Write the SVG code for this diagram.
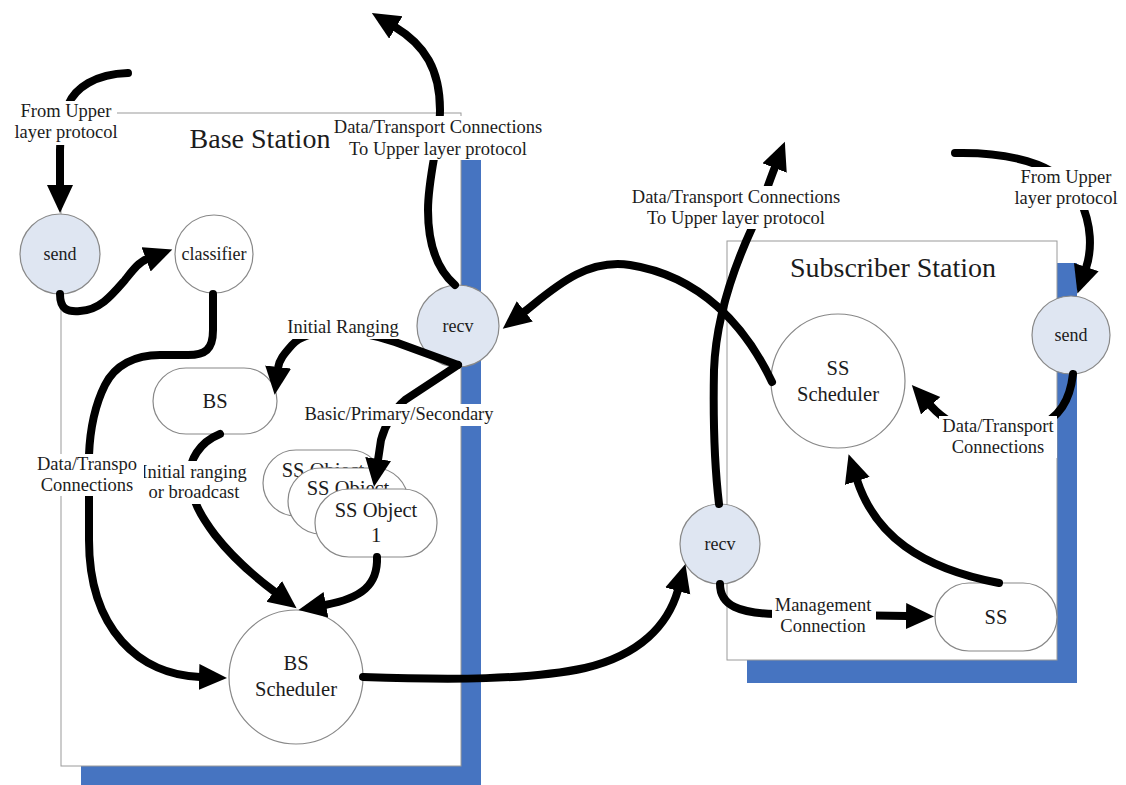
<svg xmlns="http://www.w3.org/2000/svg" width="1126" height="785" viewBox="0 0 1126 785">
  <style>
    text { font-family: "Liberation Serif", "Times New Roman", serif; fill: #1c1c1c; text-anchor: middle; }
    .title { font-size: 28px; }
    .lbl { font-size: 18.5px; }
    .small { font-size: 18px; }
    .big { font-size: 20.5px; }
    .shadow { fill: #4674c1; }
    .box { fill: #ffffff; stroke: #9a9a9a; stroke-width: 1; }
    .port { fill: #dfe6f2; stroke: #888888; stroke-width: 1.2; }
    .proc { fill: #ffffff; stroke: #888888; stroke-width: 1.2; }
    .edge { fill: none; stroke: #000000; stroke-width: 8; stroke-linecap: round; }
    .bg { fill: #ffffff; }
  </style>
  <defs>
    <marker id="head" markerUnits="userSpaceOnUse" markerWidth="30" markerHeight="28" refX="1" refY="13" orient="auto">
      <path d="M0,0 L28,13 L0,26 z" fill="#000000"/>
    </marker>
  </defs>

  <rect width="1126" height="785" fill="#ffffff"/>

  <!-- Station frames with their blue drop shadows -->
  <g id="base-station">
    <rect class="shadow" x="81" y="135" width="400" height="655"/>
    <rect class="box" x="61" y="113" width="400" height="653"/>
    <text class="title" x="260" y="148">Base Station</text>
  </g>
  <g id="subscriber-station">
    <rect class="shadow" x="747" y="263" width="330" height="420"/>
    <rect class="box" x="727" y="241" width="330" height="419"/>
    <text class="title" x="893" y="277">Subscriber Station</text>
  </g>

  <!-- Nodes -->
  <g id="bs-send">
    <circle class="port" cx="60" cy="254" r="40"/>
    <text class="small" x="60" y="260">send</text>
  </g>
  <g id="bs-classifier">
    <circle class="proc" cx="214" cy="254" r="39"/>
    <text class="small" x="214" y="260">classifier</text>
  </g>
  <g id="bs-recv">
    <circle class="port" cx="458" cy="326" r="41"/>
    <text class="small" x="458" y="332">recv</text>
  </g>
  <g id="bs-object">
    <rect class="proc" x="153" y="368" width="124" height="66" rx="33"/>
    <text class="big" x="215" y="408">BS</text>
  </g>
  <g id="ss-object-3">
    <rect class="proc" x="263" y="450" width="120" height="66" rx="33"/>
    <text class="big" x="323" y="477">SS Object</text>
  </g>
  <g id="ss-object-2">
    <rect class="proc" x="288" y="468" width="120" height="66" rx="33"/>
    <text class="big" x="348" y="495">SS Object</text>
  </g>
  <g id="ss-object-1">
    <rect class="proc" x="315" y="489" width="122" height="68" rx="34"/>
    <text class="big" x="376" y="517">SS Object</text>
    <text class="big" x="376" y="542">1</text>
  </g>
  <g id="bs-scheduler">
    <circle class="proc" cx="296" cy="677" r="67"/>
    <text class="big" x="296" y="670">BS</text>
    <text class="big" x="296" y="696">Scheduler</text>
  </g>
  <g id="ss-recv">
    <circle class="port" cx="720" cy="544" r="40"/>
    <text class="small" x="720" y="550">recv</text>
  </g>
  <g id="ss-send">
    <circle class="port" cx="1071" cy="335" r="39"/>
    <text class="small" x="1071" y="341">send</text>
  </g>
  <g id="ss-scheduler">
    <circle class="proc" cx="838" cy="381" r="67"/>
    <text class="big" x="838" y="375">SS</text>
    <text class="big" x="838" y="401">Scheduler</text>
  </g>
  <g id="ss-object">
    <rect class="proc" x="935" y="583" width="122" height="68" rx="34"/>
    <text class="big" x="996" y="624">SS</text>
  </g>

  <!-- Connectors -->
  <g id="connectors">
    <path class="edge" marker-end="url(#head)" d="M128,73 C95,74 75,88 68,105 C62,120 60,135 60,150 L60,186"/>
    <path class="edge" marker-end="url(#head)" d="M60,294 C60,310 68,312 80,311 C100,310 112,295 125,280 C133,270 139,262 147,259"/>
    <path class="edge" marker-end="url(#head)" d="M213,294 L213,330 C213,350 205,355 188,355 L160,355 C135,355 115,365 105,385 C95,405 90,430 89,455 L89,540 C89,630 140,675 200,677"/>
    <path class="edge" marker-end="url(#head)" d="M455,285 C440,272 428,250 428,210 C428,175 440,140 440,110 C440,70 425,45 395,27"/>
    <path class="edge" marker-end="url(#head)" d="M458,365 L395,342 C350,326 305,330 292,345 C284,354 279,360 278,368"/>
    <path class="edge" marker-end="url(#head)" d="M458,365 L405,400 C395,408 385,425 381,440 L378,460"/>
    <path class="edge" marker-end="url(#head)" d="M220,434 C200,442 188,460 190,480 C192,500 200,515 215,535 C232,557 255,577 275,592"/>
    <path class="edge" marker-end="url(#head)" d="M377,557 C378,585 362,598 325,605"/>
    <path class="edge" marker-end="url(#head)" d="M363,677 C450,680 530,680 585,668 C640,655 668,625 678,590"/>
    <path class="edge" marker-end="url(#head)" d="M719,504 C715,470 713,420 714,370 C716,315 735,265 752,228 C760,210 766,190 775,167"/>
    <path class="edge" marker-end="url(#head)" d="M772,382 C745,325 700,276 630,265 C585,258 552,290 524,312"/>
    <path class="edge" marker-end="url(#head)" d="M955,153 C1000,152 1060,160 1080,200 C1092,225 1092,250 1086,268"/>
    <path class="edge" marker-end="url(#head)" d="M1073,374 C1070,400 1060,418 1035,428 C1000,440 960,438 930,405"/>
    <path class="edge" marker-end="url(#head)" d="M999,583 C920,568 875,535 857,480"/>
    <path class="edge" marker-end="url(#head)" d="M720,584 C720,606 740,613 775,614 L907,616"/>
  </g>

  <!-- Connector labels -->
  <g id="edge-labels">
    <rect class="bg" x="14" y="101" width="103" height="44"/>
    <text class="lbl" x="66" y="117">From Upper</text>
    <text class="lbl" x="66" y="138">layer protocol</text>

    <rect class="bg" x="330" y="116" width="217" height="44"/>
    <text class="lbl" x="438" y="133">Data/Transport Connections</text>
    <text class="lbl" x="438" y="155">To Upper layer protocol</text>

    <rect class="bg" x="285" y="317" width="116" height="22"/>
    <text class="lbl" x="343" y="333">Initial Ranging</text>

    <rect class="bg" x="302" y="404" width="194" height="22"/>
    <text class="lbl" x="399" y="420">Basic/Primary/Secondary</text>

    <rect class="bg" x="138" y="461" width="112" height="43"/>
    <text class="lbl" x="194" y="478">Initial ranging</text>
    <text class="lbl" x="194" y="498">or broadcast</text>

    <rect class="bg" x="30" y="454" width="114" height="42"/>
    <text class="lbl" x="87" y="470">Data/Transpo</text>
    <text class="lbl" x="87" y="491">Connections</text>

    <rect class="bg" x="627" y="186" width="218" height="43"/>
    <text class="lbl" x="736" y="203">Data/Transport Connections</text>
    <text class="lbl" x="736" y="224">To Upper layer protocol</text>

    <rect class="bg" x="1012" y="167" width="108" height="43"/>
    <text class="lbl" x="1066" y="183">From Upper</text>
    <text class="lbl" x="1066" y="204">layer protocol</text>

    <rect class="bg" x="939" y="416" width="118" height="42"/>
    <text class="lbl" x="998" y="432">Data/Transport</text>
    <text class="lbl" x="998" y="453">Connections</text>

    <rect class="bg" x="772" y="596" width="104" height="41"/>
    <text class="lbl" x="823" y="611">Management</text>
    <text class="lbl" x="823" y="632">Connection</text>
  </g>
</svg>
